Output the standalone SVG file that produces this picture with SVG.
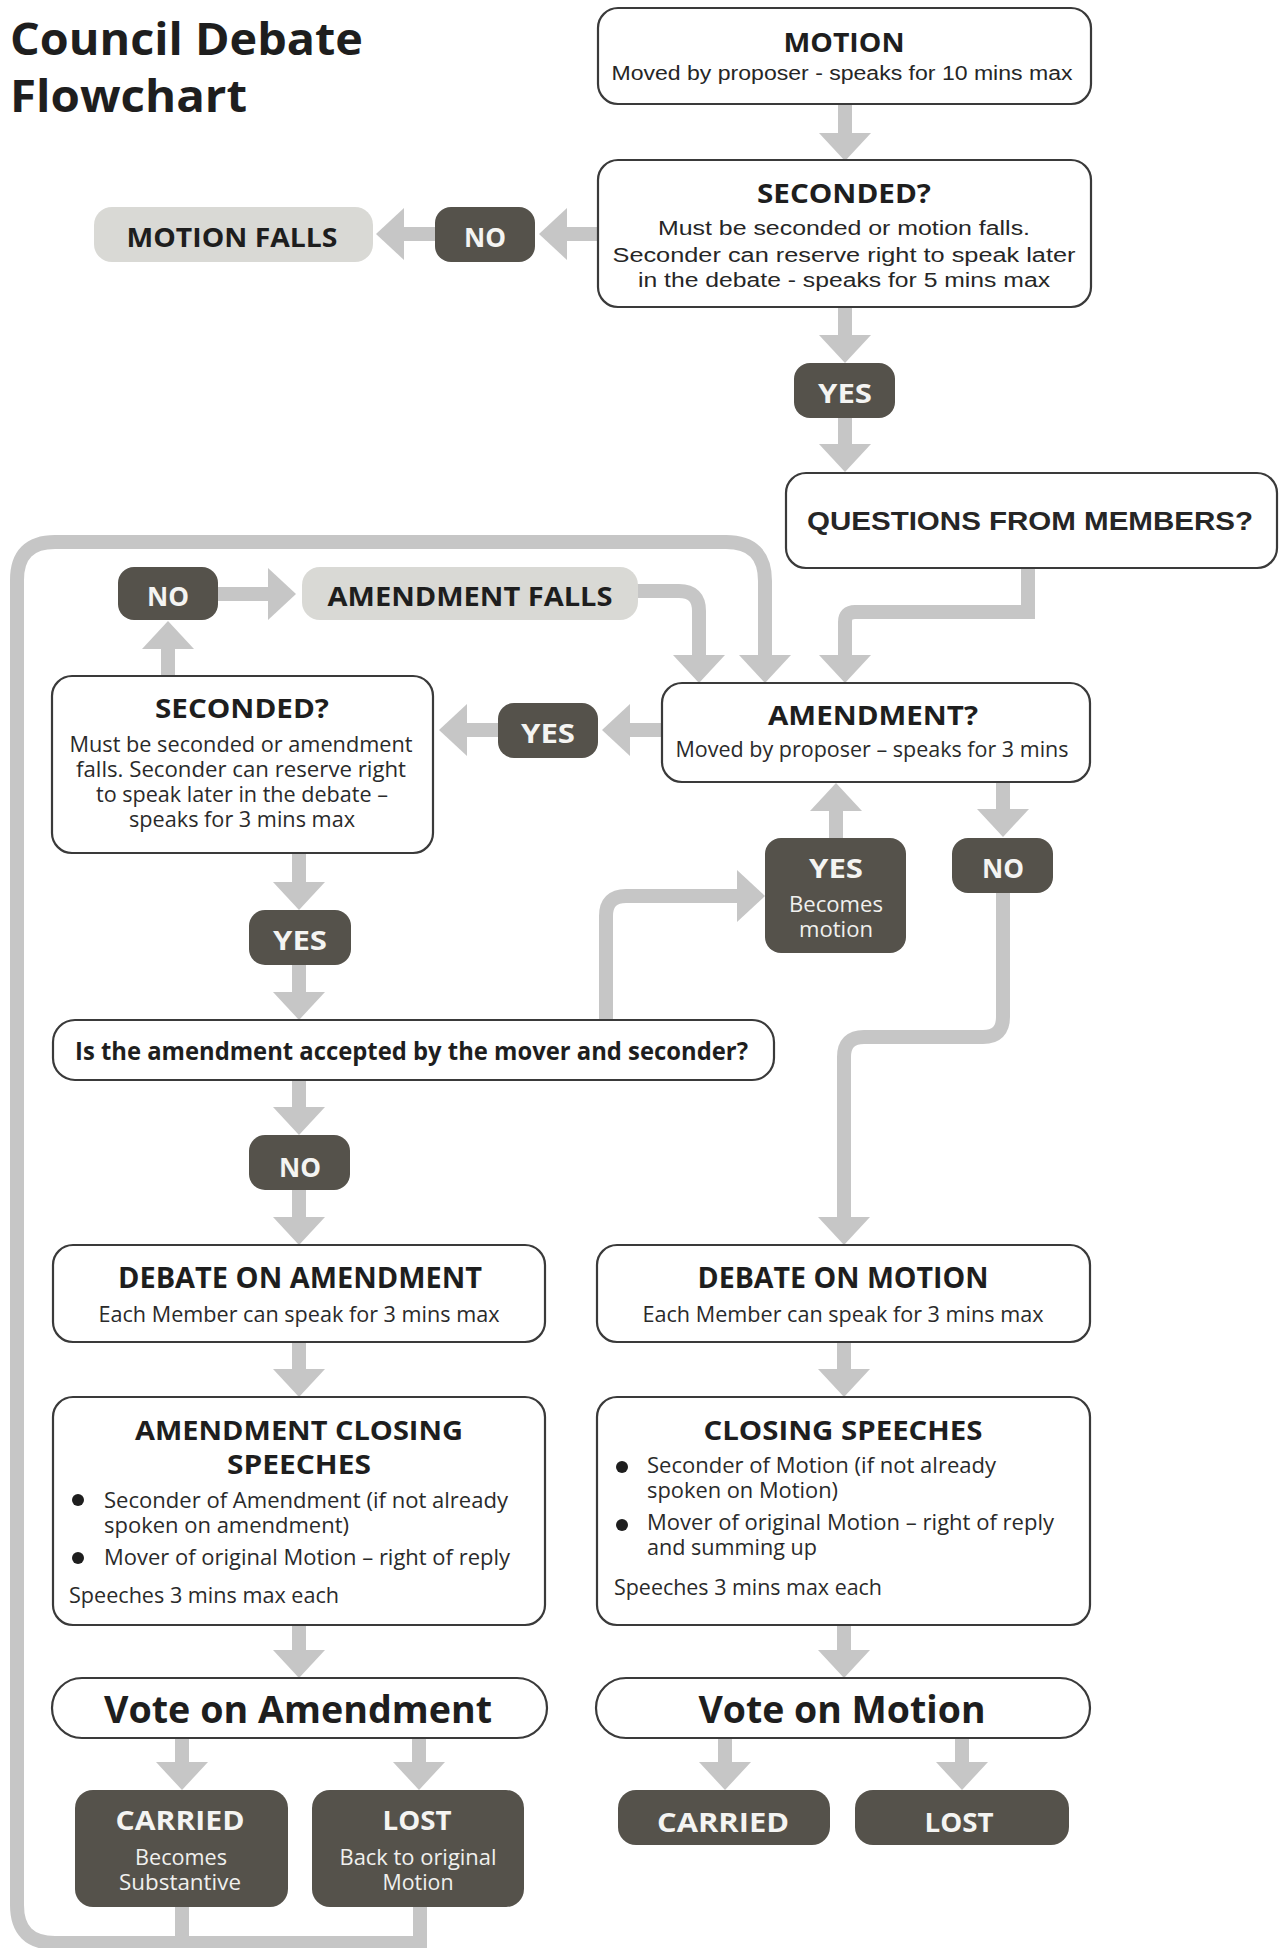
<svg xmlns="http://www.w3.org/2000/svg" width="1281" height="1948" viewBox="0 0 1281 1948">
<defs>
<style>
.box{fill:#fff;stroke:#3a3a3a;stroke-width:2.2}
.dark{fill:#55524b}
.light{fill:#d9d9d5}
.con{fill:none;stroke:#c6c6c6;stroke-width:14;marker-end:url(#ah)}
.lp{fill:none;stroke:#c6c6c6;stroke-width:14}
.h{font-family:'Open Sans','Liberation Sans',sans-serif;font-weight:700;fill:#1e1e1e;text-anchor:middle}
.b{font-family:'Open Sans','Liberation Sans',sans-serif;font-weight:400;fill:#2a2a2a}
.a{font-family:'Liberation Sans',Arial,sans-serif;fill:#262626;text-anchor:middle}
.w{font-family:'Open Sans','Liberation Sans',sans-serif;font-weight:700;fill:#f4f4f2;text-anchor:middle}
.ws{font-family:'Open Sans','Liberation Sans',sans-serif;font-weight:400;fill:#f0f0ee;text-anchor:middle}
.c{text-anchor:middle}
</style>
<marker id="ah" markerUnits="userSpaceOnUse" viewBox="0 0 28 52" refX="0" refY="26" markerWidth="28" markerHeight="52" orient="auto">
<polygon points="0,0 28,26 0,52" fill="#c6c6c6"/>
</marker>
</defs>
<rect width="1281" height="1948" fill="#fff"/>

<g id="title">
<text class="h" x="10" y="55" font-size="44" style="text-anchor:start" textLength="353" lengthAdjust="spacingAndGlyphs">Council Debate</text>
<text class="h" x="10" y="112" font-size="44" style="text-anchor:start" textLength="237" lengthAdjust="spacingAndGlyphs">Flowchart</text>
</g>

<g id="connectors">
<path class="con" d="M845,104 V133"/>
<path class="con" d="M598,234 H567"/>
<path class="con" d="M435,234 H404"/>
<path class="con" d="M845,307 V335"/>
<path class="con" d="M845,418 V444"/>
<path class="con" d="M1028,568 V612 H855 Q845,612 845,622 V655"/>
<path class="con" d="M636,591 H679 Q699,591 699,611 V655"/>
<path class="lp" d="M182,1907 V1943"/>
<path class="con" d="M420,1907 V1943 H55 Q17,1943 17,1905 V580 Q17,542 55,542 H726 Q765,542 765,581 V655"/>
<path class="con" d="M662,730 H630"/>
<path class="con" d="M498,730 H467"/>
<path class="con" d="M168,676 V649"/>
<path class="con" d="M218,594 H268"/>
<path class="con" d="M299,853 V882"/>
<path class="con" d="M299,965 V992"/>
<path class="con" d="M299,1080 V1107"/>
<path class="con" d="M299,1190 V1217"/>
<path class="con" d="M299,1342 V1369"/>
<path class="con" d="M299,1625 V1650"/>
<path class="con" d="M182,1738 V1762"/>
<path class="con" d="M419,1738 V1762"/>
<path class="con" d="M606,1020 V916 Q606,896 626,896 H737"/>
<path class="con" d="M836,838 V811"/>
<path class="con" d="M1003,783 V809"/>
<path class="con" d="M1003,893 V1017 Q1003,1037 983,1037 H864 Q844,1037 844,1057 V1217"/>
<path class="con" d="M844,1342 V1369"/>
<path class="con" d="M844,1625 V1650"/>
<path class="con" d="M725,1738 V1762"/>
<path class="con" d="M962,1738 V1762"/>
</g>

<g id="motion">
<rect class="box" x="598" y="8" width="493" height="96" rx="20"/>
<text class="h" x="844" y="52" font-size="27" textLength="121" lengthAdjust="spacingAndGlyphs">MOTION</text>
<text class="a" x="842" y="80" font-size="20" textLength="461" lengthAdjust="spacingAndGlyphs">Moved by proposer - speaks for 10 mins max</text>
</g>

<g id="seconded-motion">
<rect class="box" x="598" y="160" width="493" height="147" rx="20"/>
<text class="h" x="844" y="203" font-size="27" textLength="174" lengthAdjust="spacingAndGlyphs">SECONDED?</text>
<text class="a" x="844" y="235" font-size="20" textLength="372" lengthAdjust="spacingAndGlyphs">Must be seconded or motion falls.</text>
<text class="a" x="844" y="262" font-size="20" textLength="463" lengthAdjust="spacingAndGlyphs">Seconder can reserve right to speak later</text>
<text class="a" x="844" y="287" font-size="20" textLength="412" lengthAdjust="spacingAndGlyphs">in the debate - speaks for 5 mins max</text>
</g>

<g id="motion-falls">
<rect class="light" x="94" y="207" width="279" height="55" rx="18"/>
<text class="h" x="232" y="247" font-size="26" textLength="211" lengthAdjust="spacingAndGlyphs">MOTION FALLS</text>
</g>

<g id="no-motion">
<rect class="dark" x="435" y="207" width="100" height="55" rx="16"/>
<text class="w" x="485" y="247" font-size="26" textLength="42" lengthAdjust="spacingAndGlyphs">NO</text>
</g>

<g id="yes-motion">
<rect class="dark" x="794" y="363" width="101" height="55" rx="16"/>
<text class="w" x="845" y="403" font-size="26" textLength="54" lengthAdjust="spacingAndGlyphs">YES</text>
</g>

<g id="questions">
<rect class="box" x="786" y="473" width="491" height="95" rx="20"/>
<text class="a" x="1030" y="530" font-size="25" font-weight="700" fill="#1c1f2a" textLength="446" lengthAdjust="spacingAndGlyphs">QUESTIONS FROM MEMBERS?</text>
</g>

<g id="no-amend">
<rect class="dark" x="118" y="567" width="100" height="53" rx="16"/>
<text class="w" x="168" y="606" font-size="26" textLength="42" lengthAdjust="spacingAndGlyphs">NO</text>
</g>

<g id="amendment-falls">
<rect class="light" x="302" y="567" width="336" height="53" rx="18"/>
<text class="h" x="470" y="606" font-size="27" textLength="285" lengthAdjust="spacingAndGlyphs">AMENDMENT FALLS</text>
</g>

<g id="amendment">
<rect class="box" x="662" y="683" width="428" height="99" rx="20"/>
<text class="h" x="873" y="725" font-size="27" textLength="210" lengthAdjust="spacingAndGlyphs">AMENDMENT?</text>
<text class="b c" x="872" y="757" font-size="21" textLength="393" lengthAdjust="spacingAndGlyphs">Moved by proposer – speaks for 3 mins</text>
</g>

<g id="yes-amend">
<rect class="dark" x="498" y="703" width="100" height="55" rx="16"/>
<text class="w" x="548" y="743" font-size="26" textLength="54" lengthAdjust="spacingAndGlyphs">YES</text>
</g>

<g id="seconded-amend">
<rect class="box" x="52" y="676" width="381" height="177" rx="20"/>
<text class="h" x="242" y="718" font-size="26" textLength="174" lengthAdjust="spacingAndGlyphs">SECONDED?</text>
<text class="b c" x="241" y="752" font-size="21" textLength="343" lengthAdjust="spacingAndGlyphs">Must be seconded or amendment</text>
<text class="b c" x="241" y="777" font-size="21" textLength="330" lengthAdjust="spacingAndGlyphs">falls. Seconder can reserve right</text>
<text class="b c" x="242" y="802" font-size="21" textLength="292" lengthAdjust="spacingAndGlyphs">to speak later in the debate –</text>
<text class="b c" x="242" y="827" font-size="21" textLength="226" lengthAdjust="spacingAndGlyphs">speaks for 3 mins max</text>
</g>

<g id="yes-becomes">
<rect class="dark" x="765" y="838" width="141" height="115" rx="16"/>
<text class="w" x="836" y="878" font-size="26" textLength="54" lengthAdjust="spacingAndGlyphs">YES</text>
<text class="ws" x="836" y="912" font-size="21" textLength="94" lengthAdjust="spacingAndGlyphs">Becomes</text>
<text class="ws" x="836" y="937" font-size="21" textLength="74" lengthAdjust="spacingAndGlyphs">motion</text>
</g>

<g id="no-amendment">
<rect class="dark" x="952" y="838" width="101" height="55" rx="16"/>
<text class="w" x="1003" y="878" font-size="26" textLength="42" lengthAdjust="spacingAndGlyphs">NO</text>
</g>

<g id="yes-seconded">
<rect class="dark" x="249" y="910" width="102" height="55" rx="16"/>
<text class="w" x="300" y="950" font-size="26" textLength="54" lengthAdjust="spacingAndGlyphs">YES</text>
</g>

<g id="accepted">
<rect class="box" x="53" y="1020" width="721" height="60" rx="22"/>
<text class="h" x="75" y="1060" font-size="25" style="text-anchor:start" textLength="673" lengthAdjust="spacingAndGlyphs">Is the amendment accepted by the mover and seconder?</text>
</g>

<g id="no-accepted">
<rect class="dark" x="249" y="1135" width="101" height="55" rx="16"/>
<text class="w" x="300" y="1177" font-size="26" textLength="42" lengthAdjust="spacingAndGlyphs">NO</text>
</g>

<g id="debate-amendment">
<rect class="box" x="53" y="1245" width="492" height="97" rx="20"/>
<text class="h" x="300" y="1288" font-size="28" textLength="364" lengthAdjust="spacingAndGlyphs">DEBATE ON AMENDMENT</text>
<text class="b c" x="299" y="1322" font-size="21" textLength="401" lengthAdjust="spacingAndGlyphs">Each Member can speak for 3 mins max</text>
</g>

<g id="debate-motion">
<rect class="box" x="597" y="1245" width="493" height="97" rx="20"/>
<text class="h" x="843" y="1288" font-size="28" textLength="291" lengthAdjust="spacingAndGlyphs">DEBATE ON MOTION</text>
<text class="b c" x="843" y="1322" font-size="21" textLength="401" lengthAdjust="spacingAndGlyphs">Each Member can speak for 3 mins max</text>
</g>

<g id="amendment-closing">
<rect class="box" x="53" y="1397" width="492" height="228" rx="20"/>
<text class="h" x="299" y="1440" font-size="26" textLength="328" lengthAdjust="spacingAndGlyphs">AMENDMENT CLOSING</text>
<text class="h" x="299" y="1474" font-size="26" textLength="144" lengthAdjust="spacingAndGlyphs">SPEECHES</text>
<circle cx="78" cy="1500" r="6" fill="#1e1e1e"/>
<circle cx="78" cy="1558" r="6" fill="#1e1e1e"/>
<text class="b" x="104" y="1508" font-size="21" textLength="404" lengthAdjust="spacingAndGlyphs">Seconder of Amendment (if not already</text>
<text class="b" x="104" y="1533" font-size="21" textLength="245" lengthAdjust="spacingAndGlyphs">spoken on amendment)</text>
<text class="b" x="104" y="1565" font-size="21" textLength="406" lengthAdjust="spacingAndGlyphs">Mover of original Motion – right of reply</text>
<text class="b" x="69" y="1603" font-size="21" textLength="270" lengthAdjust="spacingAndGlyphs">Speeches 3 mins max each</text>
</g>

<g id="closing-speeches">
<rect class="box" x="597" y="1397" width="493" height="228" rx="20"/>
<text class="h" x="843" y="1440" font-size="27" textLength="279" lengthAdjust="spacingAndGlyphs">CLOSING SPEECHES</text>
<circle cx="622" cy="1467" r="6" fill="#1e1e1e"/>
<circle cx="622" cy="1525" r="6" fill="#1e1e1e"/>
<text class="b" x="647" y="1473" font-size="21" textLength="349" lengthAdjust="spacingAndGlyphs">Seconder of Motion (if not already</text>
<text class="b" x="647" y="1498" font-size="21" textLength="191" lengthAdjust="spacingAndGlyphs">spoken on Motion)</text>
<text class="b" x="647" y="1530" font-size="21" textLength="407" lengthAdjust="spacingAndGlyphs">Mover of original Motion – right of reply</text>
<text class="b" x="647" y="1555" font-size="21" textLength="170" lengthAdjust="spacingAndGlyphs">and summing up</text>
<text class="b" x="614" y="1595" font-size="21" textLength="268" lengthAdjust="spacingAndGlyphs">Speeches 3 mins max each</text>
</g>

<g id="vote-amendment">
<rect class="box" x="52" y="1678" width="495" height="60" rx="30"/>
<text class="h" x="298" y="1723" font-size="37" textLength="388" lengthAdjust="spacingAndGlyphs">Vote on Amendment</text>
</g>

<g id="vote-motion">
<rect class="box" x="596" y="1678" width="494" height="60" rx="30"/>
<text class="h" x="842" y="1723" font-size="37" textLength="287" lengthAdjust="spacingAndGlyphs">Vote on Motion</text>
</g>

<g id="carried-amendment">
<rect class="dark" x="75" y="1790" width="213" height="117" rx="18"/>
<text class="w" x="180" y="1830" font-size="26" textLength="129" lengthAdjust="spacingAndGlyphs">CARRIED</text>
<text class="ws" x="181" y="1865" font-size="21" textLength="92" lengthAdjust="spacingAndGlyphs">Becomes</text>
<text class="ws" x="180" y="1890" font-size="21" textLength="122" lengthAdjust="spacingAndGlyphs">Substantive</text>
</g>

<g id="lost-amendment">
<rect class="dark" x="312" y="1790" width="212" height="117" rx="18"/>
<text class="w" x="417" y="1830" font-size="26" textLength="69" lengthAdjust="spacingAndGlyphs">LOST</text>
<text class="ws" x="418" y="1865" font-size="21" textLength="157" lengthAdjust="spacingAndGlyphs">Back to original</text>
<text class="ws" x="418" y="1890" font-size="21" textLength="71" lengthAdjust="spacingAndGlyphs">Motion</text>
</g>

<g id="carried-motion">
<rect class="dark" x="618" y="1790" width="212" height="55" rx="18"/>
<text class="w" x="723" y="1832" font-size="26" textLength="132" lengthAdjust="spacingAndGlyphs">CARRIED</text>
</g>

<g id="lost-motion">
<rect class="dark" x="855" y="1790" width="214" height="55" rx="18"/>
<text class="w" x="959" y="1832" font-size="26" textLength="69" lengthAdjust="spacingAndGlyphs">LOST</text>
</g>
</svg>
